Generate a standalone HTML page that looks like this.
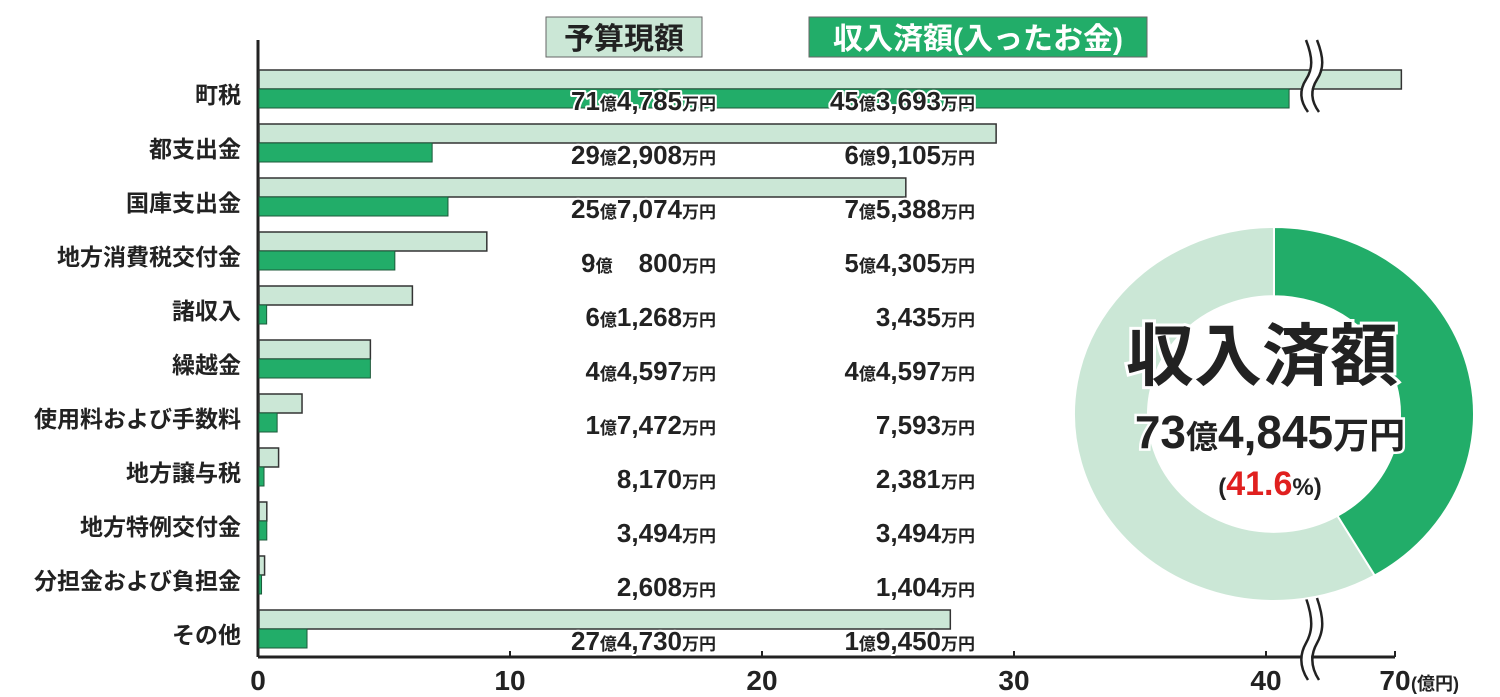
<!DOCTYPE html>
<html><head><meta charset="utf-8">
<style>
html,body{margin:0;padding:0;background:#fff;}
svg{display:block;}
text{font-family:"Liberation Sans","Noto Sans CJK JP",sans-serif;}
</style></head>
<body>
<svg id="chart" width="1500" height="697" viewBox="0 0 1500 697" xmlns="http://www.w3.org/2000/svg"></svg>
<script>
const categories = ["町税","都支出金","国庫支出金","地方消費税交付金","諸収入","繰越金","使用料および手数料","地方譲与税","地方特例交付金","分担金および負担金","その他"];
const budgetValues = [71.4785,29.2908,25.7074,9.0800,6.1268,4.4597,1.7472,0.8170,0.3494,0.2608,27.4730];
const receivedValues = [45.3693,6.9105,7.5388,5.4305,0.3435,4.4597,0.7593,0.2381,0.3494,0.1404,1.9450];
const budgetLabels = [["71","4,785"],["29","2,908"],["25","7,074"],["9","　800"],["6","1,268"],["4","4,597"],["1","7,472"],["","8,170"],["","3,494"],["","2,608"],["27","4,730"]];
const receivedLabels = [["45","3,693"],["6","9,105"],["7","5,388"],["5","4,305"],["","3,435"],["4","4,597"],["","7,593"],["","2,381"],["","3,494"],["","1,404"],["1","9,450"]];
const tickValues = [0,10,20,30,40,70];
const totalReceived = "73億4,845万円";
const receivedShare = 41.6;

const NS="http://www.w3.org/2000/svg";
const svg=document.getElementById('chart');
const DARK="#22ad69", LIGHT="#cbe7d6";
function mk(tag,attrs,parent){const e=document.createElementNS(NS,tag);for(const k in attrs)e.setAttribute(k,attrs[k]);(parent||svg).appendChild(e);return e;}
function xs(v){return v<=40?258+25.2*v:258+25.2*40+(v-40)*4.3;}
function rowTop(i){return 70+54*i;}

const ax=mk('line',{x1:258,y1:40,x2:258,y2:657,stroke:"#222","stroke-width":3});

const bx=mk('line',{x1:258,y1:657,x2:xs(70),y2:657,stroke:"#222","stroke-width":3});

tickValues.forEach(t=>{
  const tk=mk('line',{x1:xs(t),y1:651,x2:xs(t),y2:657,stroke:"#222","stroke-width":2});
  
  const tl=mk('text',{x:xs(t),y:690,"text-anchor":"middle","font-size":28,"font-weight":"bold",fill:"#222"});
  tl.textContent=t;
  
});
const unit=mk('text',{x:xs(70)+16,y:690,"font-size":18,"font-weight":"bold",fill:"#222"});
unit.textContent="(億円)";


categories.forEach((c,i)=>{
  const y=rowTop(i);
  const lb=mk('text',{x:241,y:y+33,"text-anchor":"end","font-size":23,"font-weight":"bold",fill:"#222"});
  lb.textContent=c;
  
  const b=mk('rect',{x:259,y:y,width:Math.max(2,xs(budgetValues[i])-259),height:19,fill:LIGHT,stroke:"#333","stroke-width":1.5});
  
  const r=mk('rect',{x:259,y:y+19,width:Math.max(2,xs(receivedValues[i])-259),height:19,fill:DARK,stroke:"#1c5a3a","stroke-width":1});
  
  [[budgetLabels[i],716,'budget-value-label'],[receivedLabels[i],975,'received-value-label']].forEach(([lab,xr,nm])=>{
    const t=mk('text',{x:xr,y:y+40,"text-anchor":"end",fill:"#222",stroke:"#fff","stroke-width":4,"paint-order":"stroke","stroke-linejoin":"round","font-weight":"bold"});
    
    if(lab[0]!==""){
      const a=mk('tspan',{"font-size":26},t);a.textContent=lab[0];
      const o=mk('tspan',{"font-size":17},t);o.textContent="億";
    }
    const m=mk('tspan',{"font-size":26},t);m.textContent=lab[1];
    const u=mk('tspan',{"font-size":17},t);u.textContent="万円";
  });
});

// break marks
[[40,112],[598,680]].forEach(([y1,y2])=>{
  const h=y2-y1, x=1306;
  const wave=(x0)=>`M${x0} ${y1} C${x0+7} ${y1+h*0.25} ${x0+7} ${y1+h*0.4} ${x0} ${y1+h*0.55} C${x0-7} ${y1+h*0.7} ${x0-6} ${y1+h*0.85} ${x0+2} ${y2}`;
  const fill=mk('path',{d:`${wave(x)} L${x+12} ${y2} ${wave(x+10).replace('M','L').split(' ').length?'' : ''}`,fill:"none",stroke:"none"});
  
  const band=mk('path',{d:wave(x+5),fill:"none",stroke:"#fff","stroke-width":9});
  
  [0,11].forEach(dx=>{
    const p=mk('path',{d:wave(x+dx),fill:"none",stroke:"#222","stroke-width":2.5});
    
  });
});

function legend(x,w,text,fill,color,nm){
  const g=mk('g',{});
  mk('rect',{x:x,y:17,width:w,height:40,fill:fill,stroke:"#666","stroke-width":1},g);
  const t=mk('text',{x:x+w/2,y:49,"text-anchor":"middle","font-size":30,"font-weight":"bold",fill:color},g);t.textContent=text;
}
legend(546,156,"予算現額",LIGHT,"#222",'legend-budget');
legend(809,338,"収入済額(入ったお金)",DARK,"#fff",'legend-received');

const cx=1274,cy=414,rx=200,ry=187,ir=0.63;
function pt(a,k){return [cx+rx*k*Math.sin(a),cy-ry*k*Math.cos(a)];}
function arc(a0,a1,fill,nm){
  const lg=(a1-a0)>Math.PI?1:0;
  const [x0,y0]=pt(a0,1),[x1,y1]=pt(a1,1),[x2,y2]=pt(a1,ir),[x3,y3]=pt(a0,ir);
  const p=mk('path',{d:`M${x0} ${y0} A${rx} ${ry} 0 ${lg} 1 ${x1} ${y1} L${x2} ${y2} A${rx*ir} ${ry*ir} 0 ${lg} 0 ${x3} ${y3} Z`,fill:fill,stroke:"#fff","stroke-width":2});
  
}
const split=2*Math.PI*receivedShare/100;
arc(split,2*Math.PI-0.0001,LIGHT,'donut-remaining-slice');
arc(0,split,DARK,'donut-received-slice');
const d1=mk('text',{x:1262,y:380,"text-anchor":"middle","font-size":68,"font-weight":"bold",fill:"#222",stroke:"#fff","stroke-width":6,"paint-order":"stroke"});
d1.textContent="収入済額";
const d2=mk('text',{x:1270,y:448,"text-anchor":"middle","font-weight":"bold",fill:"#222",stroke:"#fff","stroke-width":5,"paint-order":"stroke"});

const parts=totalReceived.match(/^(\d+)(億)([\d,]+)(万円)$/);
[[parts[1],46],[parts[2],32],[parts[3],46],[parts[4],36]].forEach(([s,f])=>{const t=mk('tspan',{"font-size":f},d2);t.textContent=s;});
const d3=mk('text',{x:1270,y:495,"text-anchor":"middle","font-size":30,"font-weight":"bold",fill:"#222",stroke:"#fff","stroke-width":4,"paint-order":"stroke"});

const q1=mk('tspan',{"font-size":24},d3);q1.textContent="(";
const q2=mk('tspan',{fill:"#e0201f","font-size":34},d3);q2.textContent=receivedShare.toFixed(1);
const q3=mk('tspan',{"font-size":24},d3);q3.textContent="%)";
</script>
</body></html>
